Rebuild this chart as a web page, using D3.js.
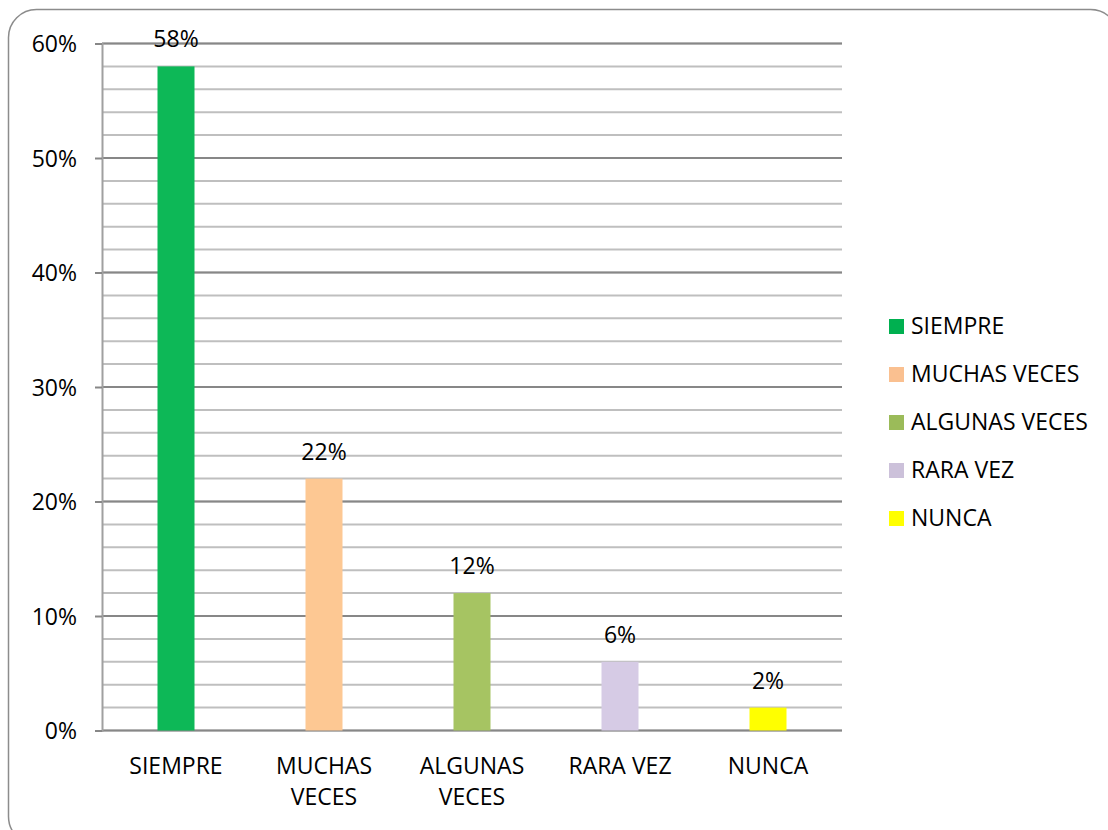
<!DOCTYPE html>
<html>
<head>
<meta charset="utf-8">
<script src="https://cdn.jsdelivr.net/npm/d3@7"></script>
<style>
  body { margin: 0; background: #fff; }
  svg text { font-family: "Open Sans", sans-serif; fill: #000; }
</style>
</head>
<body>
<svg id="chart"></svg>
<script>
// data
const categories = ["SIEMPRE", "MUCHAS VECES", "ALGUNAS VECES", "RARA VEZ", "NUNCA"];
const catLines = [["SIEMPRE"], ["MUCHAS", "VECES"], ["ALGUNAS", "VECES"], ["RARA VEZ"], ["NUNCA"]];
const values = [0.58, 0.22, 0.12, 0.06, 0.02];
const barColors = ["#0DB857", "#FDC893", "#A6C462", "#D6CBE5", "#FFFF00"];
const legendColors = ["#00B050", "#FAC090", "#9BBB59", "#CCC1DA", "#FFFF00"];
const majorTicks = [0, 0.1, 0.2, 0.3, 0.4, 0.5, 0.6];
const minorTicks = d3.range(0, 0.6001, 0.02);

const width = 1108;
const height = 830;
const margin = { left: 102, right: 266, top: 43.5, bottom: 99.5 };
const fontSize = 23;

const svg = d3.select('svg#chart').attr('width', width).attr('height', height);

// outer rounded frame
svg.append('rect')
    .attr('x', 8.5).attr('y', 9.5)
    .attr('width', 1110).attr('height', 835)
    .attr('rx', 28).attr('ry', 28)
    .attr('fill', 'none')
    .attr('stroke', '#8c8c8c')
    .attr('stroke-width', 1.5);

const x = d3.scaleBand()
    .domain(categories)
    .range([margin.left, width - margin.right])
    .paddingInner(0.75)
    .paddingOuter(0.375);

const y = d3.scaleLinear()
    .domain([0, 0.6])
    .range([height - margin.bottom, margin.top]);

// minor gridlines
svg.append('g').selectAll('line')
    .data(minorTicks)
    .enter().append('line')
    .attr('x1', margin.left).attr('x2', width - margin.right)
    .attr('y1', d => y(d)).attr('y2', d => y(d))
    .attr('stroke', '#bfbfbf')
    .attr('stroke-width', 2);

// major gridlines
svg.append('g').selectAll('line')
    .data(majorTicks)
    .enter().append('line')
    .attr('x1', margin.left).attr('x2', width - margin.right)
    .attr('y1', d => y(d)).attr('y2', d => y(d))
    .attr('stroke', '#878787')
    .attr('stroke-width', 2);

// y axis
const yAxis = svg.append('g')
    .attr('transform', `translate(${margin.left},0)`)
    .call(d3.axisLeft(y).tickValues(majorTicks).tickFormat(d3.format('.0%')).tickSizeOuter(0).tickSize(7).tickPadding(18));
yAxis.select('.domain').attr('stroke', '#a0a0a0').attr('stroke-width', 2);
yAxis.selectAll('.tick line').attr('stroke', '#878787').attr('stroke-width', 2);
yAxis.selectAll('.tick text')
    .attr('font-size', fontSize)
    .attr('font-family', '"Open Sans", sans-serif')
    .attr('fill', '#000')
    .attr('dy', '0.36em');

// bars
svg.append('g').selectAll('rect')
    .data(values)
    .enter().append('rect')
    .attr('x', (d, i) => x(categories[i]))
    .attr('y', d => y(d))
    .attr('width', x.bandwidth())
    .attr('height', d => y(0) - y(d))
    .attr('fill', (d, i) => barColors[i]);

// data labels
svg.append('g').selectAll('text')
    .data(values)
    .enter().append('text')
    .attr('x', (d, i) => x(categories[i]) + x.bandwidth() / 2)
    .attr('y', d => y(d) - 19)
    .attr('text-anchor', 'middle')
    .attr('font-size', fontSize)
    .text(d => d3.format('.0%')(d));

// category labels
const catG = svg.append('g').selectAll('text')
    .data(categories)
    .enter().append('text')
    .attr('x', d => x(d) + x.bandwidth() / 2)
    .attr('y', 774)
    .attr('text-anchor', 'middle')
    .attr('font-size', fontSize);
catG.each(function(d, i) {
    d3.select(this).selectAll('tspan')
        .data(catLines[i])
        .enter().append('tspan')
        .attr('x', x(d) + x.bandwidth() / 2)
        .attr('dy', (t, j) => j === 0 ? 0 : 31)
        .text(t => t);
});

// legend
const legend = svg.append('g').selectAll('g')
    .data(categories)
    .enter().append('g')
    .attr('transform', (d, i) => `translate(889, ${319 + i * 48})`);
legend.append('rect')
    .attr('width', 15).attr('height', 15)
    .attr('fill', (d, i) => legendColors[i]);
legend.append('text')
    .attr('x', 22).attr('y', 15)
    .attr('font-size', fontSize)
    .text(d => d);
</script>
</body>
</html>
